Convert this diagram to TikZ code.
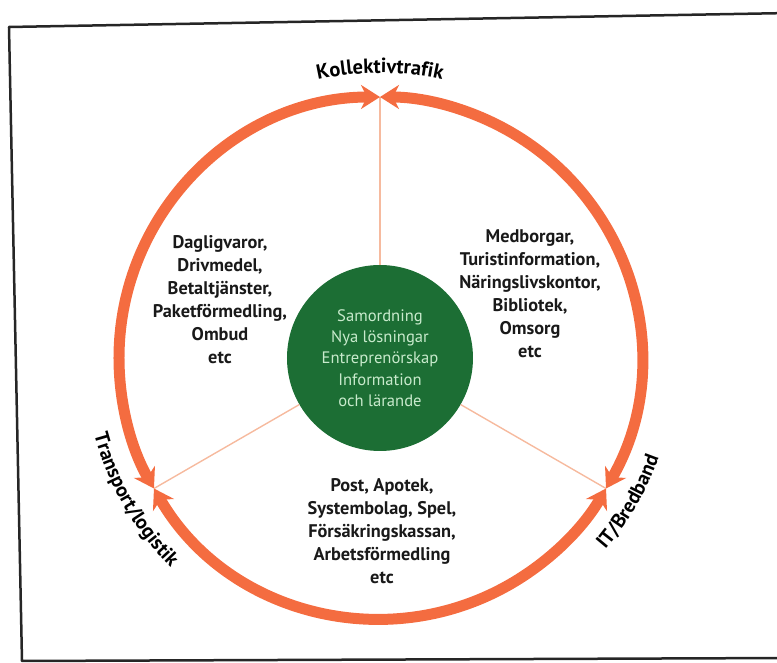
\documentclass[tikz,border=0pt]{standalone}
\usepackage{fontspec}
\setmainfont{PT Sans}
\usetikzlibrary{arrows.meta,decorations.text}
\definecolor{orang}{RGB}{244,108,64}
\definecolor{ljusor}{RGB}{246,186,158}
\definecolor{morkgron}{RGB}{28,110,52}
\definecolor{ljusgron}{RGB}{200,234,204}
\definecolor{svart}{RGB}{25,25,25}
\tikzset{
  nav/.style={circle,fill=morkgron,minimum size=186pt,inner sep=0pt,text=ljusgron,align=center,font=\fontsize{16.6}{21.3}\selectfont},
  lista/.style={align=center,text=svart,font=\bfseries\fontsize{18.3}{23}\selectfont},
  kant/.style={draw=orang,line width=11pt,{Stealth[length=19pt,width=24pt,inset=6pt]}-{Stealth[length=19pt,width=24pt,inset=6pt]}},
  eker/.style={draw=ljusor,line width=1.4pt},
  ram/.style={draw=black!85,line width=2.5pt,line join=round},
  etikett/.style 2 args={color=svart,decorate,decoration={text along path,text align=center,text={|\bfseries\fontsize{#1}{#1}\selectfont|#2}}},
}
\begin{document}
\begin{tikzpicture}[x=1pt,y=1pt]
  \useasboundingbox (-380,-305) rectangle (397,358);
  \clip (-380,-305) rectangle (397,358);
  % ram
  \draw[ram] (-371,331) -- (410,345) -- (410,-300) -- (-358,-303) -- cycle;
  % navet och ekrarna
  \node[nav] (nav) at (0,0) {Samordning\\Nya lösningar\\Entreprenörskap\\Information\\och lärande};
  \coordinate (topp) at (90:261); \coordinate (vanster) at (210:261); \coordinate (hoger) at (330:261);
  \draw[eker] (nav) -- (topp); \draw[eker] (nav) -- (vanster); \draw[eker] (nav) -- (hoger);
  \draw[kant] (topp) arc[start angle=90,end angle=210,radius=261];
  \draw[kant] (vanster) arc[start angle=210,end angle=330,radius=261];
  \draw[kant] (hoger) arc[start angle=-30,end angle=90,radius=261];
  % etiketter
  \path[etikett={20.5}{Kollektivtrafik}] (120:285) arc[start angle=120,end angle=60,radius=285];
  \path[etikett={20}{Transport/logistik}] (175:296) arc[start angle=175,end angle=245,radius=296];
  \path[etikett={20}{IT/Bredband}] (-65:296) arc[start angle=-65,end angle=5,radius=296];
  % listor
  \node[lista] (dag) at (-160,58) {Dagligvaror,\\Drivmedel,\\Betaltjänster,\\Paketförmedling,\\Ombud\\etc};
  \node[lista] (med) at (150,64) {Medborgar,\\Turistinformation,\\Näringslivskontor,\\Bibliotek,\\Omsorg\\etc};
  \node[lista] (post) at (2,-173) {Post, Apotek,\\Systembolag, Spel,\\Försäkringskassan,\\Arbetsförmedling\\etc};
\end{tikzpicture}
\end{document}
